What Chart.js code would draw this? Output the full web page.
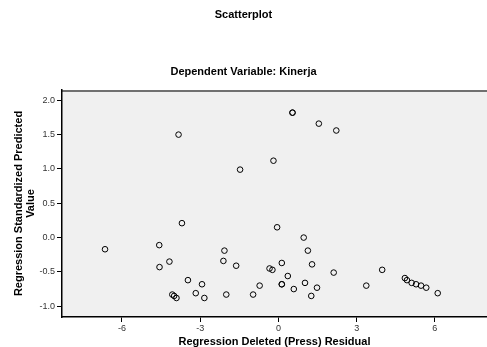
<!DOCTYPE html>
<html>
<head>
<meta charset="utf-8">
<script src="https://cdn.jsdelivr.net/npm/chart.js@4"></script>
<style>
body { margin: 0; background: #fff; }
#wrap { width: 487px; height: 347px; }
</style>
</head>
<body>
<div id="wrap"><canvas id="scatter" width="487" height="347"></canvas></div>
<script>
// Regression Deleted (Press) Residual
const residuals = [-3.83, -0.19, -1.47, -3.70, -6.65, -4.57, -4.56, -4.18, -2.07, -2.11,
    -1.62, -3.47, -2.93, -3.17, -4.07, -4.00, -3.91, -2.84, -2.00, -0.97,
    -0.72, -0.34, -0.23, -0.05, 0.54, 0.54, 1.55, 2.22, 0.97, 1.13,
    0.13, 1.29, 0.36, 2.12, 3.98, 0.13, 0.13, 0.59, 1.02, 1.48,
    1.26, 3.37, 4.85, 4.93, 5.11, 5.28, 5.47, 5.67, 6.11];

// Regression Standardized Predicted Value
const predicted = [1.50, 1.12, 0.99, 0.21, -0.17, -0.11, -0.43, -0.35, -0.19, -0.34,
    -0.41, -0.62, -0.68, -0.81, -0.83, -0.85, -0.88, -0.88, -0.83, -0.83,
    -0.70, -0.45, -0.47, 0.15, 1.82, 1.82, 1.66, 1.56, 0.00, -0.19,
    -0.37, -0.39, -0.56, -0.51, -0.47, -0.68, -0.68, -0.75, -0.66, -0.73,
    -0.85, -0.70, -0.59, -0.62, -0.66, -0.68, -0.70, -0.73, -0.81];

const xTicks = [-6, -3, 0, 3, 6];
const yTicks = [-1.0, -0.5, 0.0, 0.5, 1.0, 1.5, 2.0];

const FONT = "Arial, 'Liberation Sans', sans-serif";

const points = residuals.map((x, i) => ({ x: x, y: predicted[i] }));

const plotBackground = {
    id: 'plotBackground',
    beforeDraw(chart) {
        const { ctx, chartArea: a } = chart;
        ctx.save();
        ctx.fillStyle = '#f0f0f0';
        ctx.fillRect(a.left, a.top, a.right - a.left, a.bottom - a.top);
        ctx.strokeStyle = '#707070';
        ctx.lineWidth = 2;
        ctx.beginPath();
        ctx.moveTo(a.left, a.top + 1);
        ctx.lineTo(a.right, a.top + 1);
        ctx.stroke();
        ctx.restore();
    }
};

new Chart(document.getElementById('scatter'), {
    type: 'scatter',
    data: {
        datasets: [{
            data: points,
            pointStyle: 'circle',
            pointRadius: 2.8,
            pointBorderWidth: 1,
            borderColor: '#000',
            backgroundColor: 'rgba(0,0,0,0)'
        }]
    },
    plugins: [plotBackground],
    options: {
        responsive: false,
        animation: false,
        layout: { padding: 0, autoPadding: false },
        plugins: {
            legend: { display: false },
            tooltip: { enabled: false },
            title: {
                display: true,
                text: 'Scatterplot',
                color: '#000',
                font: { family: FONT, size: 11, weight: 'bold', lineHeight: 1.2 },
                padding: { top: 8, bottom: 0 }
            },
            subtitle: {
                display: true,
                text: 'Dependent Variable: Kinerja',
                color: '#000',
                font: { family: FONT, size: 11, weight: 'bold', lineHeight: 1.2 },
                padding: { top: 44, bottom: 11.6 }
            }
        },
        scales: {
            x: {
                type: 'linear',
                min: -8.3,
                max: 8.0,
                afterBuildTicks: s => { s.ticks = xTicks.map(v => ({ value: v })); },
                afterFit: s => { s.height = 30; },
                grid: { drawOnChartArea: false, drawTicks: true, tickLength: 5, tickColor: '#000', tickWidth: 1 },
                border: { display: true, color: '#000', width: 1.5 },
                ticks: {
                    color: '#333',
                    padding: 1,
                    font: { family: FONT, size: 9 },
                    callback: v => String(v)
                },
                title: {
                    display: true,
                    text: 'Regression Deleted (Press) Residual',
                    color: '#000',
                    font: { family: FONT, size: 11, weight: 'bold', lineHeight: 1 },
                    padding: { top: 0, bottom: 0 }
                }
            },
            y: {
                type: 'linear',
                min: -1.157,
                max: 2.15,
                afterBuildTicks: s => { s.ticks = yTicks.map(v => ({ value: v })); },
                afterFit: s => { s.width = 62; },
                grid: { drawOnChartArea: false, drawTicks: true, tickLength: 5, tickColor: '#000', tickWidth: 1 },
                border: { display: true, color: '#000', width: 1.5 },
                ticks: {
                    color: '#333',
                    padding: 2,
                    font: { family: FONT, size: 9 },
                    callback: v => v.toFixed(1)
                },
                title: {
                    display: true,
                    text: ['Regression Standardized Predicted', 'Value'],
                    color: '#000',
                    font: { family: FONT, size: 11, weight: 'bold', lineHeight: 1.1 },
                    padding: { top: 13, bottom: 0 }
                }
            }
        }
    }
});
</script>
</body>
</html>
